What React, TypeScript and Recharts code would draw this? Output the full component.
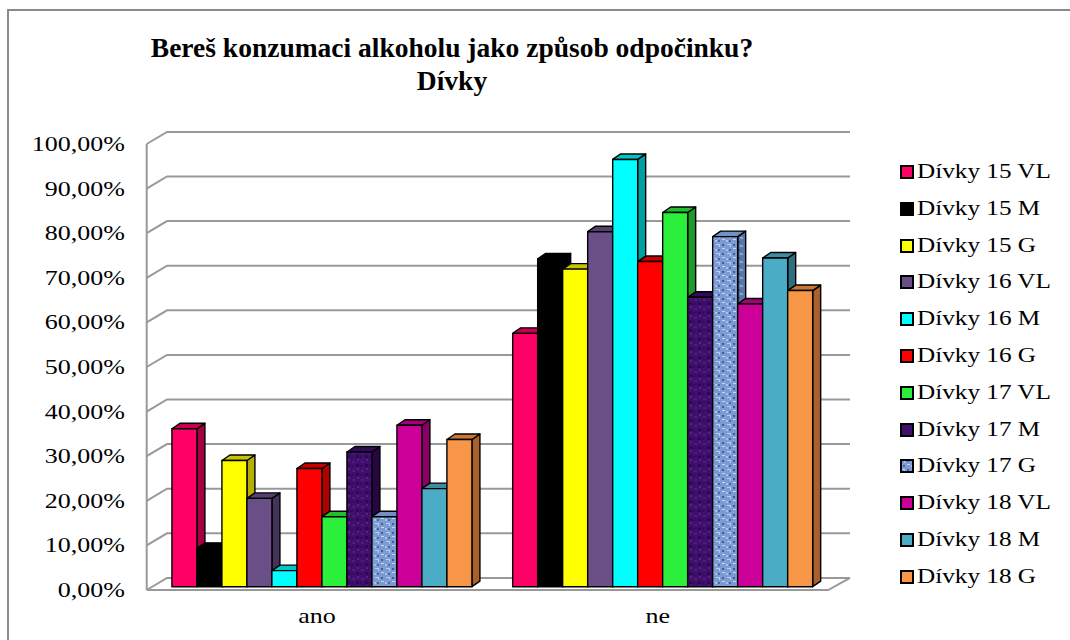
import React from 'react';
import { BarChart, Bar, XAxis, YAxis, CartesianGrid } from 'recharts';

const categories = ['ano', 'ne'];

const seriesNames = [
  'Dívky 15 VL', 'Dívky 15 M', 'Dívky 15 G',
  'Dívky 16 VL', 'Dívky 16 M', 'Dívky 16 G',
  'Dívky 17 VL', 'Dívky 17 M', 'Dívky 17 G',
  'Dívky 18 VL', 'Dívky 18 M', 'Dívky 18 G',
];

// percent per series
const anoValues = [35.4, 8.6, 28.3, 19.8, 3.6, 26.5, 15.7, 30.2, 15.7, 36.2, 22.0, 33.0];
const neValues = [56.8, 73.5, 71.2, 79.6, 95.8, 72.9, 83.9, 64.9, 78.5, 63.4, 73.7, 66.4];

const yTicks = [0, 10, 20, 30, 40, 50, 60, 70, 80, 90, 100];

// front / top / side face colours
const faces = [
  { front: '#FF0066', top: '#C8004F', side: '#A30045' },
  { front: '#000000', top: '#000000', side: '#000000' },
  { front: '#FFFF00', top: '#C9C400', side: '#B5B000' },
  { front: '#6A4F87', top: '#56406E', side: '#44335A' },
  { front: '#00FFFF', top: '#00C4C8', side: '#009FA6' },
  { front: '#FF0000', top: '#C80000', side: '#B00000' },
  { front: '#2BEF3B', top: '#22BE2E', side: '#1E9A28' },
  { front: 'url(#pat17m)', top: '#330A58', side: '#260742' },
  { front: 'url(#pat17g)', top: '#7290C4', side: 'url(#pat17gSide)' },
  { front: '#CC0099', top: '#A3007A', side: '#8A0066' },
  { front: '#4BACC6', top: '#3D8CA2', side: '#2F6E80' },
  { front: '#F79646', top: '#C87937', side: '#A9612B' },
];

const legendSwatch = ['#FF0066', '#000000', '#FFFF00', '#6A4F87', '#00FFFF', '#FF0000', '#2BEF3B', '#3F0F6B', 'url(#pat17g)', '#CC0099', '#4BACC6', '#F79646'];

const chartData = categories.map((name, ci) => {
  const row: Record<string, string | number> = { name };
  const vals = ci === 0 ? anoValues : neValues;
  seriesNames.forEach((_, i) => {
    row['s' + i] = vals[i];
  });
  return row;
});

const SERIF = 'Liberation Serif, DejaVu Serif, Times New Roman, serif';

// 3d depth of the bars and the walls, relative to the bar plane
const BAR_DX = 8;
const BAR_DY = -5.5;
const FRONT_DX = -5.8;
const FRONT_DY = 3.3;
const BACK_DX_L = 14.5;
const BACK_DX_R = 16;
const BACK_DY = -8.8;
const GRID = '#999999';

const makeShape = (i: number) => (props: any) => {
  const { x, y, width, height } = props;
  if (height == null || width == null) return <g />;
  const f = faces[i];
  const r = x + width;
  const b = y + height;
  return (
    <g stroke="#000" strokeWidth={1.4} strokeLinejoin="round">
      <polygon
        points={`${r},${y} ${r + BAR_DX},${y + BAR_DY} ${r + BAR_DX},${b + BAR_DY} ${r},${b}`}
        fill={f.side}
      />
      <polygon
        points={`${x},${y} ${x + BAR_DX},${y + BAR_DY} ${r + BAR_DX},${y + BAR_DY} ${r},${y}`}
        fill={f.top}
      />
      <rect x={x} y={y} width={width} height={height} fill={f.front} />
    </g>
  );
};

const GridLine = (props: any) => {
  const { x1, x2, y1, index } = props;
  const y = y1;
  const isFloor = Math.abs(y - 586.7) < 2;
  return (
    <g key={`gl-${index}`} fill="none" stroke={GRID} strokeWidth={2}>
      <polyline
        points={`${x1 + FRONT_DX},${y + FRONT_DY} ${x1 + BACK_DX_L},${y + BACK_DY} ${x2 + BACK_DX_R},${y + BACK_DY}`}
      />
      {isFloor && (
        <polyline
          points={`${x1 + FRONT_DX},${y + FRONT_DY} ${x2 + FRONT_DX},${y + FRONT_DY} ${x2 + BACK_DX_R},${y + BACK_DY}`}
        />
      )}
      {isFloor && (
        <line x1={x1 + FRONT_DX} y1={y + FRONT_DY} x2={x1 + FRONT_DX} y2={140.7 + FRONT_DY} />
      )}
    </g>
  );
};

const YTick = (props: any) => {
  const { y, payload } = props;
  const label = `${payload.value.toFixed(2).replace('.', ',')}%`;
  return (
    <text
      transform={`translate(125,${y + FRONT_DY + 7}) scale(1.3,1)`}
      textAnchor="end"
      style={{ fontFamily: SERIF }}
      fontSize={20}
      fill="#000"
    >
      {label}
    </text>
  );
};

const XTick = (props: any) => {
  const { x, payload } = props;
  return (
    <text
      transform={`translate(${x + FRONT_DX},623) scale(1.3,1)`}
      textAnchor="middle"
      style={{ fontFamily: SERIF }}
      fontSize={20}
      fill="#000"
    >
      {payload.value}
    </text>
  );
};

export default function App() {
  return (
    <div
      style={{
        position: 'fixed',
        left: 0,
        top: 0,
        width: 1070,
        height: 640,
        overflow: 'hidden',
        background: '#fff',
        fontFamily: SERIF,
      }}
    >
      <svg width={0} height={0} style={{ position: 'absolute' }}>
        <defs>
          <pattern id="pat17m" patternUnits="userSpaceOnUse" width="9" height="9">
            <rect width="9" height="9" fill="#3F0F6B" />
            <rect x="1" y="2" width="3" height="2" fill="#4E1C80" />
            <rect x="5" y="5" width="3" height="3" fill="#2E0854" />
            <rect x="6" y="0" width="2" height="2" fill="#54228A" />
            <rect x="0" y="6" width="2" height="2" fill="#330A5C" />
          </pattern>
          <pattern id="pat17g" patternUnits="userSpaceOnUse" width="11" height="9">
            <rect width="11" height="9" fill="#7C9BD2" />
            <rect x="1" y="1" width="4" height="1" fill="#B9CDF2" />
            <rect x="4" y="2" width="1" height="2" fill="#B9CDF2" />
            <rect x="7" y="5" width="3" height="1" fill="#C4D6F6" />
            <rect x="0" y="6" width="2" height="2" fill="#A9C0EC" />
            <rect x="7" y="1" width="2" height="2" fill="#3F5E9C" />
            <rect x="3" y="6" width="2" height="2" fill="#4A69A8" />
          </pattern>
          <pattern id="pat17gSide" patternUnits="userSpaceOnUse" width="8" height="8">
            <rect width="8" height="8" fill="#5A76A8" />
            <rect x="1" y="1" width="3" height="2" fill="#3A5585" />
            <rect x="4" y="5" width="3" height="2" fill="#8AA4D0" />
          </pattern>
        </defs>
      </svg>

      <div
        style={{
          position: 'absolute',
          left: 7,
          top: 9,
          width: 1080,
          height: 650,
          borderLeft: '2px solid #8a8a8a',
          borderTop: '2px solid #8a8a8a',
        }}
      />

      <svg width={1070} height={110} style={{ position: 'absolute', left: 0, top: 0 }}>
        <text
          x={452}
          y={57}
          textAnchor="middle"
          style={{ fontFamily: SERIF }}
          fontWeight="bold"
          fontSize={27.5}
          fill="#000"
        >
          Bereš konzumaci alkoholu jako způsob odpočinku?
        </text>
        <text
          x={452}
          y={90}
          textAnchor="middle"
          style={{ fontFamily: SERIF }}
          fontWeight="bold"
          fontSize={27.5}
          fill="#000"
        >
          Dívky
        </text>
      </svg>

      <div style={{ position: 'absolute', left: 0, top: 0 }}>
        <BarChart
          width={1070}
          height={640}
          data={chartData}
          margin={{ top: 140.7, right: 236, bottom: 23.3, left: 92.5 }}
          barCategoryGap="5.7%"
          barGap={0}
        >
          <CartesianGrid vertical={false} horizontal={GridLine} />
          <XAxis
            dataKey="name"
            axisLine={false}
            tickLine={false}
            height={30}
            tick={<XTick />}
            interval={0}
          />
          <YAxis
            domain={[0, 100]}
            ticks={yTicks}
            axisLine={false}
            tickLine={false}
            width={60}
            tick={<YTick />}
            interval={0}
          />
          {seriesNames.map((s, i) => (
            <Bar
              key={s}
              dataKey={'s' + i}
              name={s}
              fill={legendSwatch[i]}
              shape={makeShape(i)}
              isAnimationActive={false}
            />
          ))}
        </BarChart>
      </div>

      <div style={{ position: 'absolute', left: 900, top: 153 }}>
        {seriesNames.map((s, i) => (
          <div key={s} style={{ position: 'relative', height: 36.8 }}>
            <svg width={14} height={14} style={{ position: 'absolute', left: 0, top: 12 }}>
              <rect x={1} y={1} width={12} height={12} fill={legendSwatch[i]} stroke="#000" strokeWidth={2} />
            </svg>
            <span
              style={{
                position: 'absolute',
                left: 17,
                top: 5,
                fontSize: 20,
                lineHeight: '26px',
                whiteSpace: 'nowrap',
                transform: 'scaleX(1.26)',
                transformOrigin: 'left center',
                color: '#000',
              }}
            >
              {s}
            </span>
          </div>
        ))}
      </div>
    </div>
  );
}
